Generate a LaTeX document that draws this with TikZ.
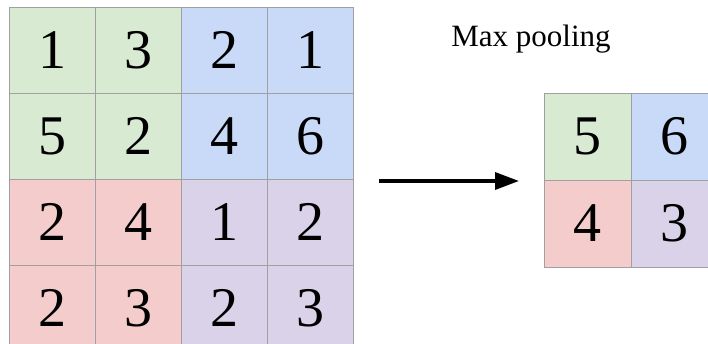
\documentclass[tikz,border=0pt]{standalone}
\usepackage{fontspec}
\setmainfont{Liberation Serif}
\usepackage{tikz}
\usetikzlibrary{arrows.meta}
\definecolor{quad00}{RGB}{217,234,211}
\definecolor{quad01}{RGB}{201,218,248}
\definecolor{quad10}{RGB}{244,204,204}
\definecolor{quad11}{RGB}{217,210,233}
\definecolor{gridline}{RGB}{160,160,160}
\tikzset{
    cell/.style={draw=gridline, line width=0.8pt, inner sep=0pt, outer sep=0pt,
        font=\fontsize{56}{56}\selectfont},
    incell/.style={cell, minimum size=86pt},
    outcell/.style={cell, minimum size=87pt},
    pooltitle/.style={anchor=base, font=\fontsize{31}{31}\selectfont}
}

\begin{document}
\begin{tikzpicture}[x=1pt, y=-1pt]
            \useasboundingbox (0,0) rectangle (708,344);
            \clip (0,0) rectangle (708,344);

            % ---------------- input ----------------
            \foreach \r/\row in {0/{1,3,2,1}, 1/{5,2,4,6}, 2/{2,4,1,2}, 3/{2,3,2,3}}
                \foreach \v [count=\c from 0] in \row {
                    \pgfmathtruncatemacro\qr{\r/2}
                    \pgfmathtruncatemacro\qc{\c/2}
                    \node[incell, fill=quad\qr\qc] (in\r\c) at (52+86*\c, 50+86*\r) {\v};
                }

            % ---------------- output ----------------
            \foreach \r/\row in {0/{5,6}, 1/{4,3}}
                \foreach \v [count=\c from 0] in \row
                    \node[outcell, fill=quad\r\c] (out\r\c) at (587.5+87*\c, 136.5+87*\r) {\v};

            \node[pooltitle] (title) at (531,47) {Max pooling};

            % ---------------- arrow ----------------
            \coordinate (arrowtail) at (379,181);
            \coordinate (arrowtip) at (519,181);
            \draw[line width=3.5pt, -{Triangle[length=24pt, width=17pt]}] (arrowtail) -- (arrowtip);
        \end{tikzpicture}
\end{document}
